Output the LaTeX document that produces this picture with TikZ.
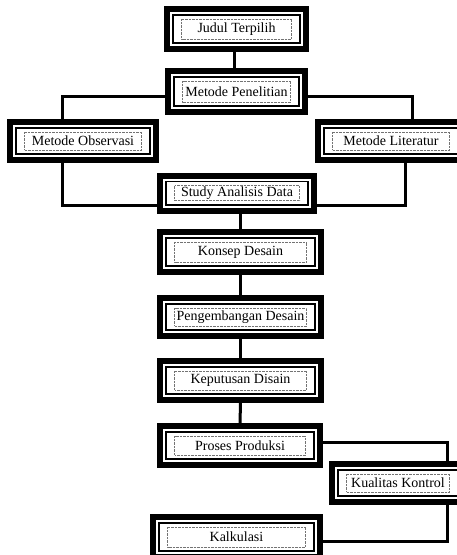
\documentclass[tikz,border=0pt]{standalone}
\usepackage{fontspec}
\setmainfont{Liberation Serif}
\begin{document}
\begin{tikzpicture}[x=1pt,y=-1pt,
  frame/.style n args={2}{draw=black, fill=white, line width=6pt, inner sep=0pt, outer sep=0pt,
    minimum width=#1-6pt, minimum height=#2-6pt,
    font=\fontsize{14}{16}\selectfont,
    path picture={
      \draw[black, line width=1.7pt] ([shift={(5.85pt,-5.85pt)}]path picture bounding box.north west) rectangle ([shift={(-5.85pt,5.85pt)}]path picture bounding box.south east);
      \draw[black!55, line width=0.7pt, dash pattern=on 0.7pt off 0.7pt] ([shift={(14.5pt,-10pt)}]path picture bounding box.north west) rectangle ([shift={(-14.5pt,10pt)}]path picture bounding box.south east);
    }},
  link/.style={draw=black, line width=3pt}]
\useasboundingbox (0,0) rectangle (456,555);
\fill[white] (0,0) rectangle (456,555);

\node[frame={145pt}{46pt}] (judul) at (236.5,29) {Judul Terpilih};
\node[frame={143pt}{47pt}] (metpen) at (236.5,91.5) {Metode Penelitian};
\node[frame={152pt}{44pt}] (obs) at (83,141) {Metode Observasi};
\node[frame={152pt}{44pt}] (lit) at (391,141) {Metode Literatur};
\node[frame={160pt}{41pt}] (study) at (237,193) {Study Analisis Data};
\node[frame={167pt}{46pt}] (konsep) at (240.5,252) {Konsep Desain};
\node[frame={167pt}{44pt}] (pengemb) at (240.5,317) {Pengembangan Desain};
\node[frame={167pt}{45pt}] (keput) at (240.5,380.5) {Keputusan Disain};
\node[frame={166pt}{45pt}] (proses) at (240,445.5) {Proses Produksi};
\node[frame={138pt}{44pt}] (kual) at (398,483) {Kualitas Kontrol};
\node[frame={173pt}{46pt}] (kalk) at (236.5,537) {Kalkulasi};

% connectors
\draw[link] ([xshift=-2.5pt]judul.south) -- ([xshift=-2.5pt]metpen.north);
\draw[link] ([yshift=-4.5pt]metpen.west) -| ([xshift=-21pt]obs.north);
\draw[link] ([yshift=-4.5pt]metpen.east) -| ([xshift=21pt]lit.north);
\draw[link] ([xshift=-21pt]obs.south) |- ([yshift=-12.5pt]study.west);
\draw[link] ([xshift=14pt]lit.south) |- ([yshift=-12.5pt]study.east);
\draw[link] (konsep.north |- study.south) -- (konsep.north);
\draw[link] (konsep) -- (pengemb);
\draw[link] (pengemb) -- (keput);
\draw[link] (keput) -- (proses);
\draw[link] ([yshift=3.5pt]proses.east) -| ([xshift=49pt]kual.north);
\draw[link] ([xshift=49pt]kual.south) |- ([yshift=-4pt]kalk.east);
\end{tikzpicture}
\end{document}
